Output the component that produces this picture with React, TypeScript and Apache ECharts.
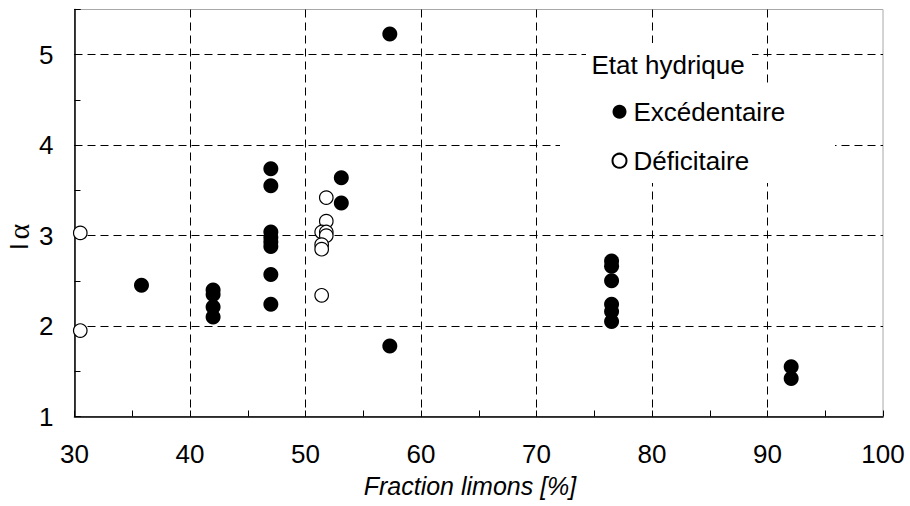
import React, { useEffect, useRef } from "react";
import * as echarts from "echarts";

const excX = [35.8, 42, 42, 42, 42, 47, 47, 47, 47, 47, 47, 47, 47, 53.1, 53.1, 57.3, 57.3, 76.5, 76.5, 76.5, 76.5, 76.5, 76.5, 92.05, 92.05];
const excY = [2.45, 2.4, 2.35, 2.21, 2.1, 3.74, 3.55, 3.04, 2.98, 2.93, 2.88, 2.57, 2.24, 3.64, 3.36, 5.23, 1.78, 2.72, 2.66, 2.5, 2.24, 2.16, 2.05, 1.55, 1.42];
const defX = [30.5, 30.5, 51.8, 51.8, 51.4, 51.8, 51.8, 51.4, 51.4, 51.4];
const defY = [3.03, 1.95, 3.42, 3.16, 3.04, 3.04, 3.0, 2.9, 2.85, 2.34];

const seriesNames = ["Excédentaire", "Déficitaire"];
const legendTitle = "Etat hydrique";
const xTitle = "Fraction limons [%]";

const FONT = "'Liberation Sans', Arial, Helvetica, sans-serif";
const FS = 26;

export default function App() {
  const ref = useRef<HTMLDivElement>(null);
  useEffect(() => {
    if (!ref.current) return;
    const chart = echarts.init(ref.current, undefined, { renderer: "svg" });
    const exc = excX.map((x, i) => [x, excY[i]]);
    const def = defX.map((x, i) => [x, defY[i]]);
    const dash = { color: "#000", width: 1, type: [8, 5] as number[] };
    chart.setOption({
      animation: false,
      backgroundColor: "#fff",
      textStyle: { fontFamily: FONT },
      grid: {
        left: 74.5,
        right: 27,
        top: 9.5,
        bottom: 89.5,
        show: true,
        borderColor: "#a8a8a8",
        borderWidth: 1,
        backgroundColor: "transparent",
      },
      xAxis: {
        type: "value",
        min: 30,
        max: 100,
        interval: 10,
        axisLine: { show: true, onZero: false, lineStyle: { color: "#000", width: 1.5 } },
        axisTick: { show: true, inside: true, length: 6, lineStyle: { color: "#000", width: 1 } },
        minorTick: { show: true, splitNumber: 2, length: 6, lineStyle: { color: "#000", width: 1 } },
        axisLabel: { color: "#000", fontSize: FS, fontFamily: FONT, margin: 24 },
        splitLine: { show: true, showMinLine: false, showMaxLine: false, lineStyle: dash },
      },
      yAxis: [
        {
          type: "value",
          min: 1,
          max: 5.5,
          interval: 1,
          axisLine: { show: true, onZero: false, lineStyle: { color: "#000", width: 1.5 } },
          axisTick: { show: true, inside: true, length: 6, lineStyle: { color: "#000", width: 1 } },
          axisLabel: {
            color: "#000",
            fontSize: FS,
            fontFamily: FONT,
            margin: 21,
            formatter: (v: number) => (Number.isInteger(v) ? String(v) : ""),
          },
          splitLine: { show: true, showMinLine: false, showMaxLine: false, lineStyle: dash },
        },
        {
          type: "value",
          position: "left",
          min: 1,
          max: 5.5,
          interval: 0.5,
          axisLine: { show: false },
          axisTick: { show: true, inside: true, length: 6, lineStyle: { color: "#000", width: 1 } },
          axisLabel: { show: false },
          splitLine: { show: false },
        },
      ],
      legend: {
        orient: "vertical",
        left: 611.5,
        top: 97.7,
        padding: 0,
        itemWidth: 18,
        itemHeight: 14,
        itemGap: 21,
        data: seriesNames,
        textStyle: { color: "#000", fontSize: FS, lineHeight: 28, fontFamily: FONT },
      },
      graphic: {
        elements: [
          {
            type: "rect",
            z: 3,
            shape: { x: 586, y: 43, width: 166, height: 42 },
            style: { fill: "#fff" },
            silent: true,
          },
          {
            type: "rect",
            z: 3,
            shape: { x: 560, y: 85, width: 275, height: 98 },
            style: { fill: "#fff" },
            silent: true,
          },
          {
            type: "text",
            z: 5,
            x: 591.5,
            y: 65,
            style: {
              text: legendTitle,
              fontSize: FS,
              fontFamily: FONT,
              fill: "#000",
              textAlign: "left",
              textVerticalAlign: "middle",
            },
          },
          {
            type: "text",
            z: 5,
            x: 470,
            y: 486,
            style: {
              text: xTitle,
              fontSize: 25,
              fontStyle: "italic",
              fontFamily: FONT,
              fill: "#000",
              textAlign: "center",
              textVerticalAlign: "middle",
            },
          },
          {
            type: "text",
            z: 5,
            x: 18.5,
            y: 237,
            rotation: Math.PI / 2,
            style: {
              text: "{a|I} {b|α}",
              fill: "#000",
              textAlign: "center",
              textVerticalAlign: "middle",
              rich: {
                a: { fontSize: 26, fontFamily: FONT, fill: "#000" },
                b: { fontSize: 30, fontFamily: "'Liberation Serif', 'DejaVu Serif', serif", fill: "#000" },
              },
            },
          },
        ],
      },
      series: [
        {
          name: seriesNames[0],
          type: "scatter",
          xAxisIndex: 0,
          yAxisIndex: 0,
          symbol: "circle",
          symbolSize: 15,
          itemStyle: { color: "#000", borderColor: "#000", borderWidth: 0, opacity: 1 },
          data: exc,
          z: 2,
        },
        {
          name: seriesNames[1],
          type: "scatter",
          xAxisIndex: 0,
          yAxisIndex: 0,
          symbol: "circle",
          symbolSize: 13.5,
          itemStyle: { color: "#fff", borderColor: "#000", borderWidth: 1.2, opacity: 1 },
          data: def,
          z: 2,
        },
      ],
    });
    return () => chart.dispose();
  }, []);
  return <div ref={ref} style={{ width: 910, height: 506, position: "absolute", left: 0, top: 0 }} />;
}
